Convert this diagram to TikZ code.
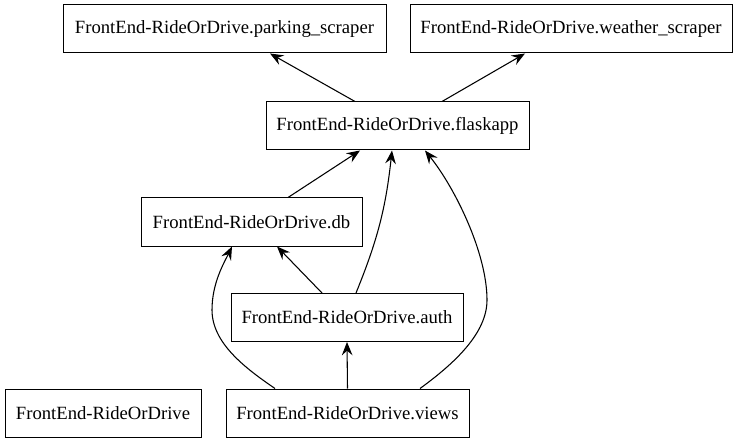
\documentclass[tikz,border=0pt]{standalone}
\usepackage{fontspec}
\setmainfont{Liberation Serif}
\usetikzlibrary{arrows.meta}
\usetikzlibrary{calc}

\begin{document}
\begin{tikzpicture}[x=0.75pt, y=0.75pt]
    % ================= styles =================
    \tikzset{
        % module box
        modbox/.style={draw=black, line width=0.75pt, fill=white, rectangle, minimum height=36pt, inner xsep=4pt, font=\fontsize{14}{16}\selectfont},
        % import edge
        dep/.style={-{Stealth[length=10pt, width=8pt, inset=3.5pt]}, line width=0.8pt, black}
    }
    \useasboundingbox (0,0) rectangle (738,443);

    % ================= modules =================
    \node[modbox, minimum width=242.25pt] (parking) at (224.5, 414) {FrontEnd-RideOrDrive.parking\_scraper};
    \node[modbox, minimum width=241.5pt] (weather) at (571, 414) {FrontEnd-RideOrDrive.weather\_scraper};
    \node[modbox, minimum width=197.25pt] (flask) at (397.5, 317) {FrontEnd-RideOrDrive.flaskapp};
    \node[modbox, minimum width=165.75pt] (db) at (251.5, 221) {FrontEnd-RideOrDrive.db};
    \node[modbox, minimum width=174pt] (auth) at (347, 125.5) {FrontEnd-RideOrDrive.auth};
    \node[modbox, minimum width=147pt] (root) at (103, 30) {FrontEnd-RideOrDrive};
    \node[modbox, minimum width=182.25pt] (views) at (347.5, 30) {FrontEnd-RideOrDrive.views};

    % ================= imports =================
    \draw[dep] ($(flask.north)+(-42.5,0)$) -- ($(parking.south)+(45.5,0)$);
    \draw[dep] ($(flask.north)+(44.5,0)$) -- ($(weather.south)+(-46,0)$);
    \draw[dep] ($(db.north)+(36.5,0)$) -- ($(flask.south)+(-37.5,0)$);
    \draw[dep] ($(auth.north)+(9,0)$) to[bend right=8] ($(flask.south)+(-5.5,0)$);
    \draw[dep] ($(auth.north)+(-25,0)$) -- ($(db.south)+(25.5,0)$);
    \draw[dep] (views.north) -- (auth.south);

    % views -> flaskapp, round the right of auth
    \draw[dep] ($(views.north)+(72.5,0)$) .. controls (455,80) and (487,110) .. (487,143)
        .. controls (487,190) and (455,255) .. ($(flask.south)+(27.5,0)$);
    % views -> db, round the left of auth
    \draw[dep] ($(views.north)+(-72.5,0)$) .. controls (245,75) and (212,100) .. (212,133)
        .. controls (212,160) and (224,180) .. ($(db.south)+(-19.5,0)$);
\end{tikzpicture}
\end{document}
